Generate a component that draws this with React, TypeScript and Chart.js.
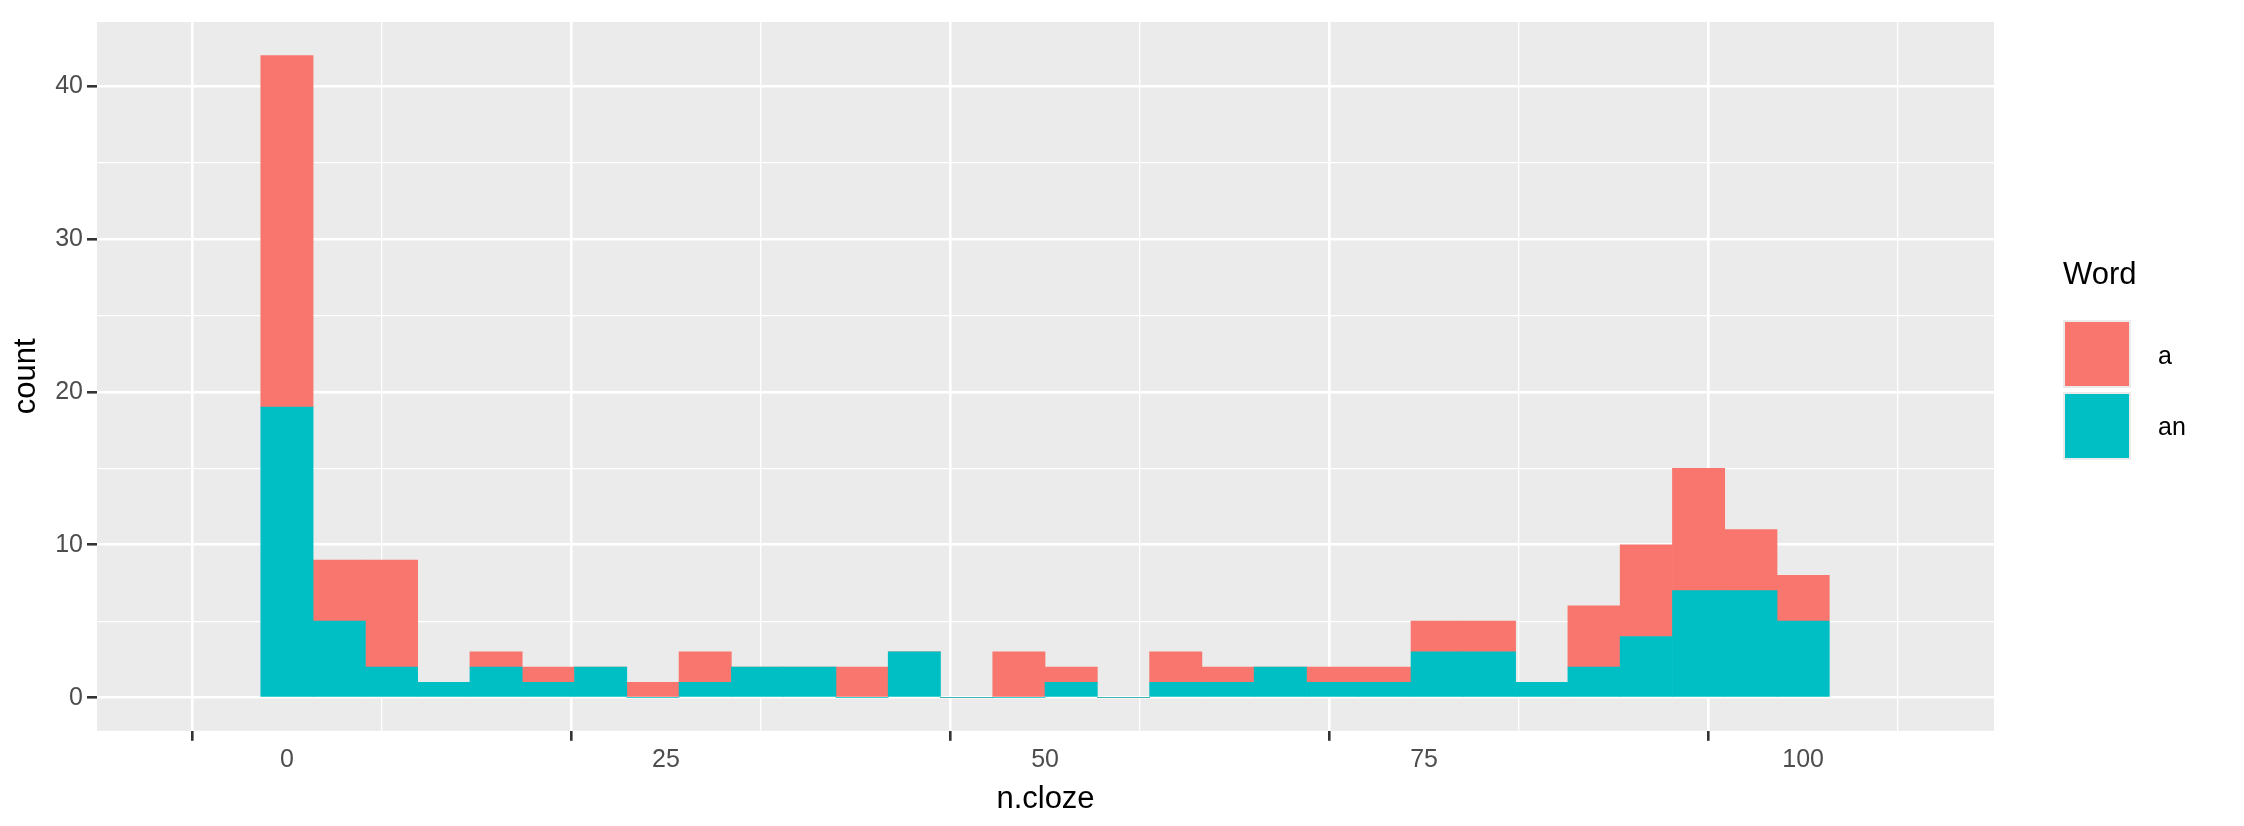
import { useEffect, useRef } from "react"
import { Chart, registerables } from "chart.js"

Chart.register(...registerables)

// histogram bins (binwidth = 103.4 / 30), counts per bin
const binWidth = 3.4483
const countA = [23, 4, 7, 0, 1, 1, 0, 1, 2, 0, 0, 2, 0, 0, 3, 1, 0, 2, 1, 0, 1, 1, 2, 2, 0, 4, 6, 8, 4, 3]
const countAn = [19, 5, 2, 1, 2, 1, 2, 0, 1, 2, 2, 0, 3, 0, 0, 1, 0, 1, 1, 2, 1, 1, 3, 3, 1, 2, 4, 7, 7, 5]
const xTicks = [-12.5, 0, 12.5, 25, 37.5, 50, 62.5, 75, 87.5, 100, 112.5]
const yTicks = [-5, 0, 5, 10, 15, 20, 25, 30, 35, 40, 45]

const isMajor = (v: number | undefined, step: number) =>
  v !== undefined && Math.abs(v / step - Math.round(v / step)) < 1e-6

const panelBg = {
  id: "panelBg",
  beforeDraw(chart: Chart) {
    const { ctx, chartArea } = chart
    ctx.save()
    ctx.fillStyle = "#EBEBEB"
    ctx.fillRect(chartArea.left, chartArea.top, chartArea.right - chartArea.left, chartArea.bottom - chartArea.top)
    ctx.restore()
  },
}

export default function App() {
  const chartRef = useRef<HTMLCanvasElement>(null)
  const chartInstance = useRef<Chart | null>(null)

  useEffect(() => {
    document.body.style.margin = "0"
    if (!chartRef.current) return
    if (chartInstance.current) chartInstance.current.destroy()
    const ctx = chartRef.current.getContext("2d")
    if (!ctx) return

    const font = { family: "Liberation Sans, Arial, sans-serif" }

    chartInstance.current = new Chart(ctx, {
      type: "bar",
      data: {
        datasets: [
          {
            label: "an",
            data: countAn.map((y, i) => ({ x: i * binWidth, y })),
            backgroundColor: "#00BFC4",
            borderWidth: 0,
          },
          {
            label: "a",
            data: countA.map((y, i) => ({ x: i * binWidth, y })),
            backgroundColor: "#F8766D",
            borderWidth: 0,
          },
        ],
      },
      options: {
        responsive: false,
        devicePixelRatio: 1,
        animation: false,
        layout: { padding: { top: 22, right: 250, bottom: 8, left: 8 } },
        plugins: { legend: { display: false }, tooltip: { enabled: false } },
        datasets: { bar: { barPercentage: 1, categoryPercentage: 1 } },
        scales: {
          x: {
            type: "linear",
            stacked: true,
            min: -6.84,
            max: 106.9,
            afterBuildTicks: (s) => {
              s.ticks = xTicks.map((value) => ({ value }))
            },
            border: { display: false },
            grid: {
              color: "#FFFFFF",
              lineWidth: (c) => (isMajor(c.tick?.value, 25) ? 2.6 : 1.3),
              tickColor: (c) => (isMajor(c.tick?.value, 25) ? "#333333" : "rgba(0,0,0,0)"),
              tickLength: 10,
            },
            ticks: {
              autoSkip: false,
              maxRotation: 0,
              color: "#4D4D4D",
              font: { ...font, size: 25 },
              padding: 4,
              callback: (v) => (isMajor(Number(v), 25) ? String(v) : ""),
            },
            title: { display: true, text: "n.cloze", color: "#000000", font: { ...font, size: 31 }, padding: { top: 2, bottom: 0 } },
          },
          y: {
            stacked: true,
            min: -2.17,
            max: 44.2,
            afterBuildTicks: (s) => {
              s.ticks = yTicks.map((value) => ({ value }))
            },
            border: { display: false },
            grid: {
              color: "#FFFFFF",
              lineWidth: (c) => (isMajor(c.tick?.value, 10) ? 2.6 : 1.3),
              tickColor: (c) => (isMajor(c.tick?.value, 10) ? "#333333" : "rgba(0,0,0,0)"),
              tickLength: 10,
            },
            ticks: {
              autoSkip: false,
              color: "#4D4D4D",
              font: { ...font, size: 25 },
              padding: 4,
              callback: (v) => (isMajor(Number(v), 10) ? String(v) : ""),
            },
            title: { display: true, text: "count", color: "#000000", font: { ...font, size: 31 }, padding: { top: 0, bottom: 6 } },
          },
        },
      },
      plugins: [panelBg],
    })

    return () => {
      if (chartInstance.current) chartInstance.current.destroy()
    }
  }, [])

  const labelStyle = { position: "absolute" as const, left: 2158, fontSize: 25, color: "#000", lineHeight: "30px" }
  return (
    <div style={{ position: "relative", width: 2244, height: 826, fontFamily: "Liberation Sans, Arial, sans-serif" }}>
      <canvas ref={chartRef} width={2244} height={826} />
      <div style={{ position: "absolute", left: 2063, top: 256, fontSize: 31, color: "#000" }}>Word</div>
      <div style={{ position: "absolute", left: 2063, top: 320, width: 68, height: 68, background: "#F8766D", border: "2px solid #EBEBEB", boxSizing: "border-box" }} />
      <div style={{ position: "absolute", left: 2063, top: 392, width: 68, height: 68, background: "#00BFC4", border: "2px solid #EBEBEB", boxSizing: "border-box" }} />
      <div style={{ ...labelStyle, top: 340 }}>a</div>
      <div style={{ ...labelStyle, top: 411 }}>an</div>
    </div>
  )
}
